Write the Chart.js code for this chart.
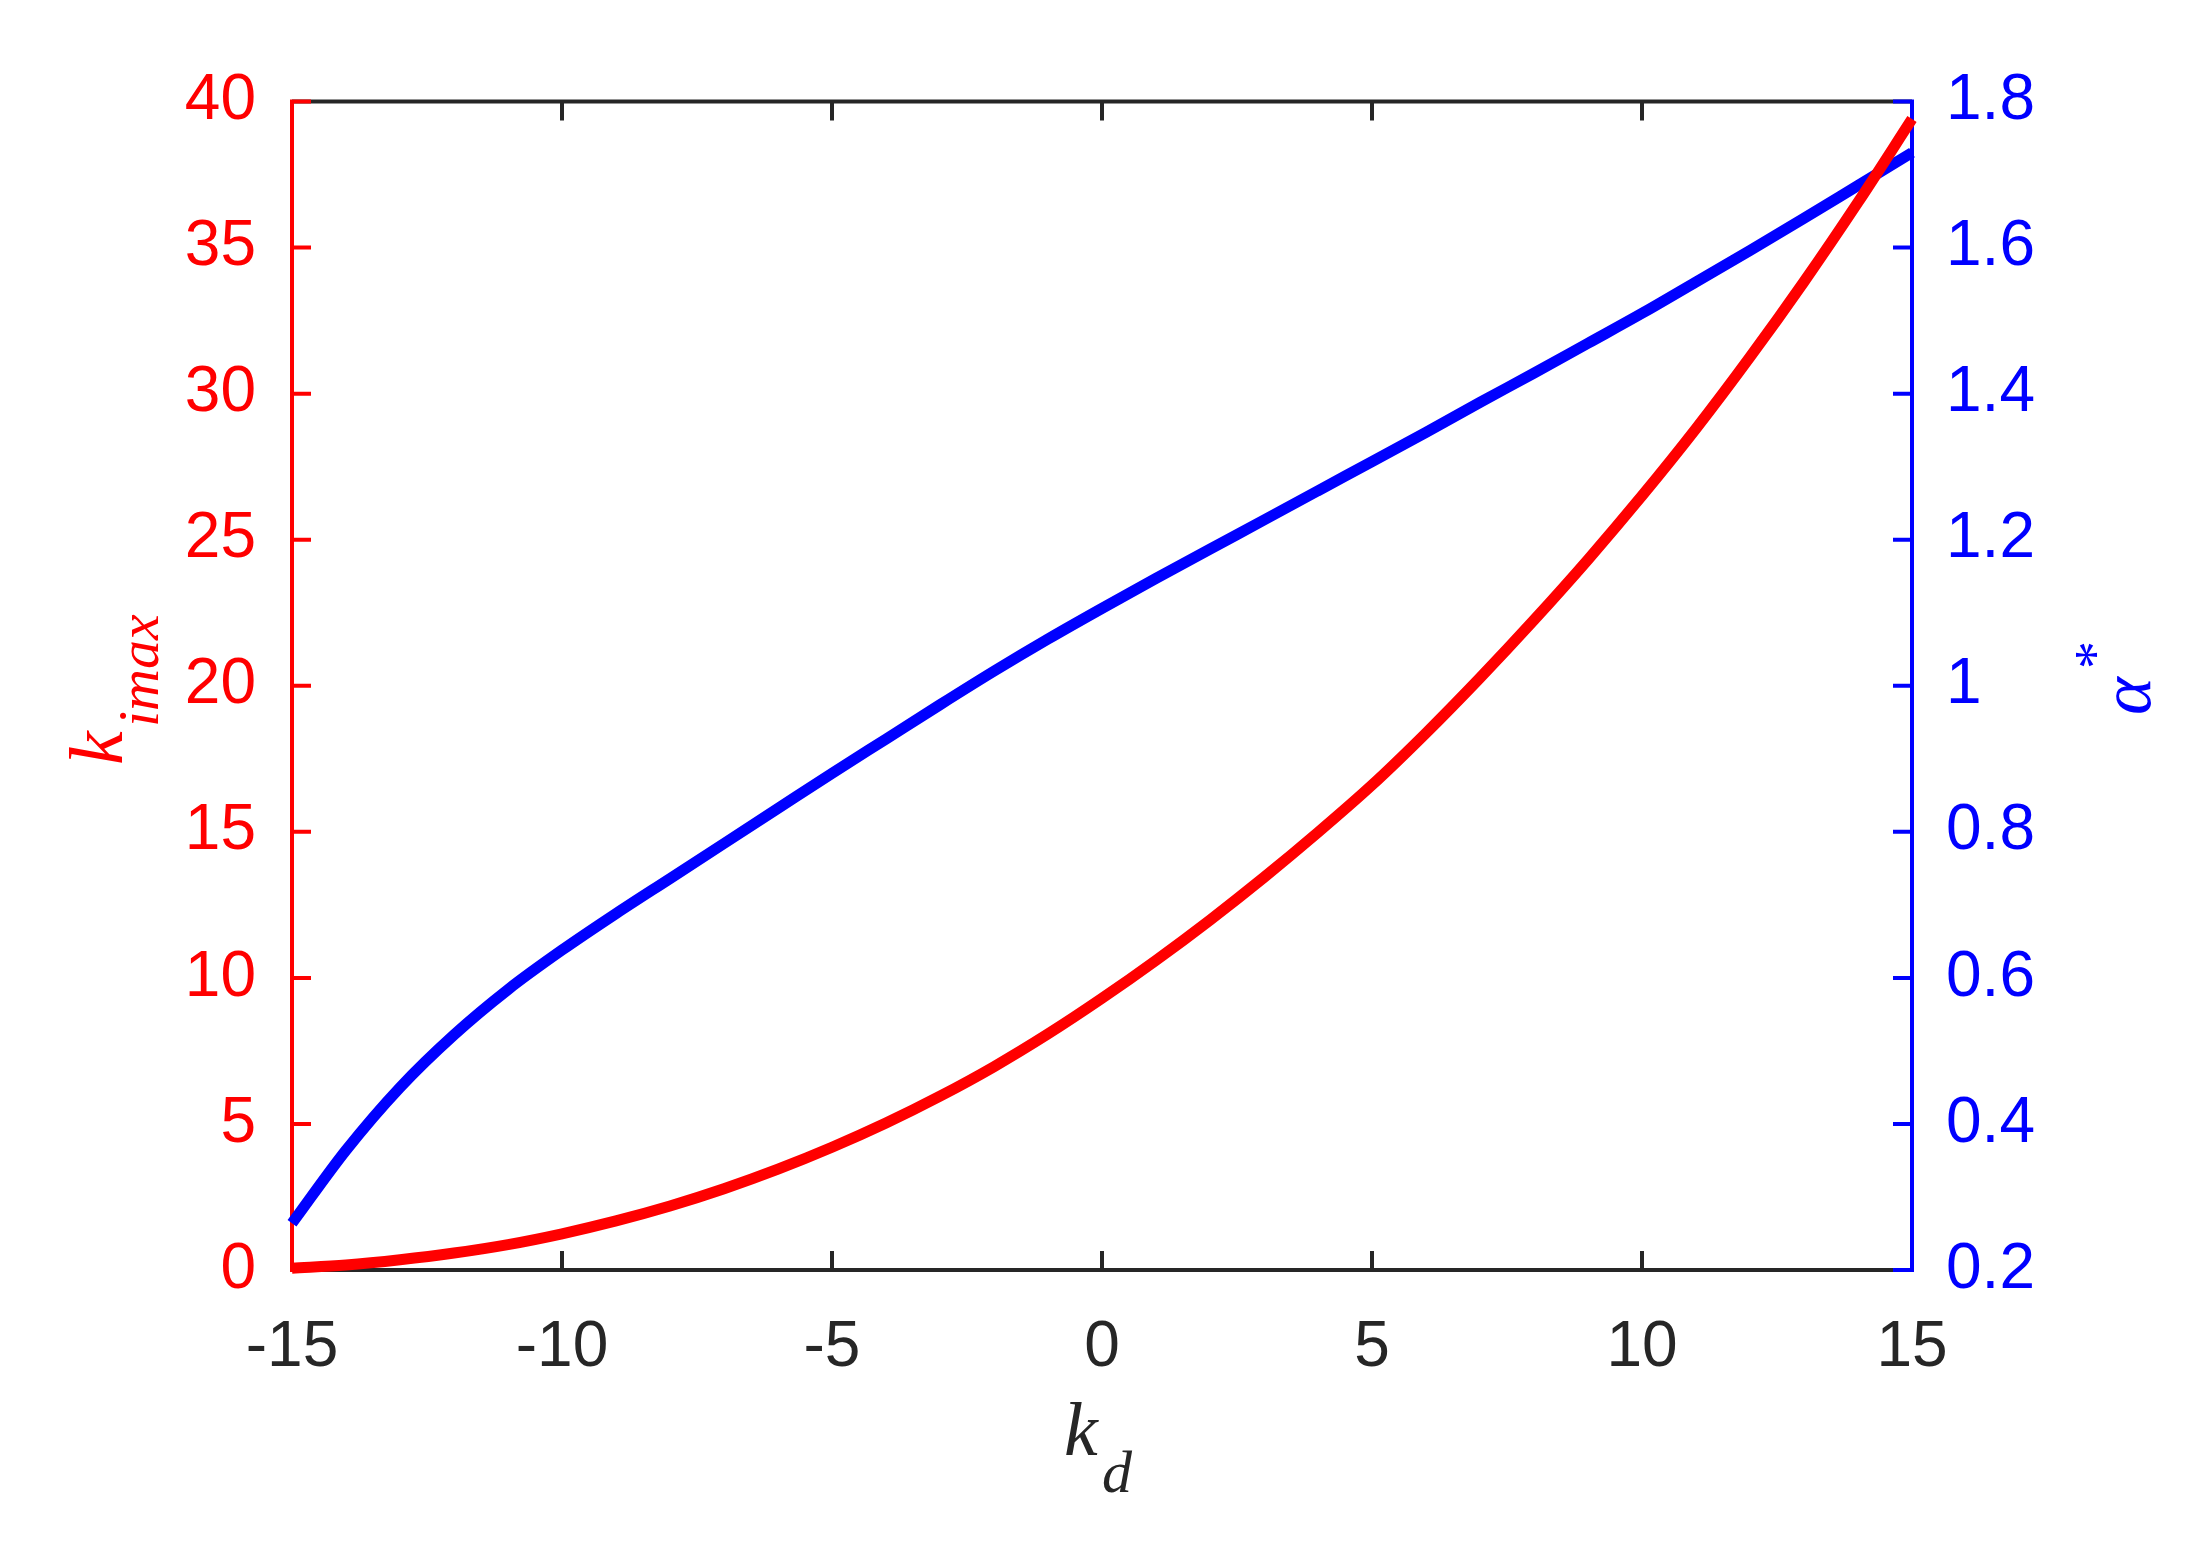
<!DOCTYPE html>
<html>
<head>
<meta charset="utf-8">
<script src="https://cdn.jsdelivr.net/npm/chart.js@4.4.1/dist/chart.umd.min.js"></script>
<style>
  html, body { margin: 0; padding: 0; background: #fff; }
  canvas { display: block; }
</style>
</head>
<body>
<canvas id="chart" width="2212" height="1542"></canvas>
<script>
// values, one per unit of k_d
const kd = [-15, -14, -13, -12, -11, -10, -9, -8, -7, -6, -5, -4, -3, -2, -1, 0,
            1, 2, 3, 4, 5, 6, 7, 8, 9, 10, 11, 12, 13, 14, 15];
const kiMax = [0.06, 0.17, 0.35, 0.58, 0.87, 1.24, 1.68, 2.19, 2.78, 3.45, 4.2, 5.03, 5.95, 6.96, 8.08, 9.3,
               10.6, 11.98, 13.44, 14.98, 16.6, 18.38, 20.27, 22.25, 24.32, 26.5, 28.8, 31.25, 33.83, 36.55, 39.4];
const alphaStar = [0.264, 0.364, 0.45, 0.522, 0.584, 0.638, 0.688, 0.736, 0.784, 0.832, 0.88, 0.927, 0.974, 1.02, 1.064, 1.106,
                   1.147, 1.187, 1.227, 1.267, 1.307, 1.347, 1.388, 1.428, 1.469, 1.51, 1.553, 1.596, 1.64, 1.685, 1.73];

const xTicks = [-15, -10, -5, 0, 5, 10, 15];
const leftTicks = [0, 5, 10, 15, 20, 25, 30, 35, 40];
const rightTicks = [0.2, 0.4, 0.6, 0.8, 1, 1.2, 1.4, 1.6, 1.8];

const RED = '#ff0000';
const BLUE = '#0000ff';
const DARK = '#262626';
const TICK_LEN = 19;

Chart.defaults.font.family = '"Liberation Sans", Arial, sans-serif';
Chart.defaults.font.size = 64;

function toPoints(xs, ys) {
    return xs.map((x, i) => ({ x: x, y: ys[i] }));
}

function setTicks(list) {
    return function (scale) {
        scale.ticks = list.map(v => ({ value: v }));
    };
}

// matlab style box: inward ticks, coloured y rulers
const axesPlugin = {
    id: 'matlabAxes',
    beforeDatasetsDraw(chart) {
        const { ctx, chartArea: a, scales } = chart;
        ctx.save();
        ctx.lineWidth = 4;
        ctx.lineCap = 'butt';

        ctx.strokeStyle = DARK;
        ctx.beginPath();
        ctx.moveTo(a.left, a.top); ctx.lineTo(a.right, a.top);
        ctx.moveTo(a.left, a.bottom); ctx.lineTo(a.right, a.bottom);
        xTicks.forEach(v => {
            const px = scales.x.getPixelForValue(v);
            ctx.moveTo(px, a.bottom); ctx.lineTo(px, a.bottom - TICK_LEN);
            ctx.moveTo(px, a.top); ctx.lineTo(px, a.top + TICK_LEN);
        });
        ctx.stroke();

        ctx.strokeStyle = RED;
        ctx.beginPath();
        ctx.moveTo(a.left, a.top - 2); ctx.lineTo(a.left, a.bottom + 2);
        leftTicks.forEach(v => {
            const py = scales.y.getPixelForValue(v);
            ctx.moveTo(a.left, py); ctx.lineTo(a.left + TICK_LEN, py);
        });
        ctx.stroke();

        ctx.strokeStyle = BLUE;
        ctx.beginPath();
        ctx.moveTo(a.right, a.top - 2); ctx.lineTo(a.right, a.bottom + 2);
        rightTicks.forEach(v => {
            const py = scales.y1.getPixelForValue(v);
            ctx.moveTo(a.right, py); ctx.lineTo(a.right - TICK_LEN, py);
        });
        ctx.stroke();
        ctx.restore();
    },
    afterDraw(chart) {
        const ctx = chart.ctx;
        ctx.save();
        ctx.textAlign = 'left';
        ctx.textBaseline = 'alphabetic';

        // x title: k_d
        ctx.fillStyle = DARK;
        ctx.font = 'italic 76px "Liberation Serif", "Times New Roman", serif';
        ctx.fillText('k', 1064, 1455);
        ctx.font = 'italic 60px "Liberation Serif", "Times New Roman", serif';
        ctx.fillText('d', 1102, 1492);

        // left title: k_imax (rotated)
        ctx.save();
        ctx.translate(122, 765);
        ctx.rotate(-Math.PI / 2);
        ctx.fillStyle = RED;
        ctx.font = 'italic 76px "Liberation Serif", "Times New Roman", serif';
        ctx.fillText('k', 0, 0);
        ctx.font = 'italic 58px "Liberation Serif", "Times New Roman", serif';
        ctx.fillText('imax', 38, 36);
        ctx.restore();

        // right title: alpha* (rotated)
        ctx.save();
        ctx.translate(2150, 715);
        ctx.rotate(-Math.PI / 2);
        ctx.fillStyle = BLUE;
        ctx.font = 'italic 72px "Liberation Serif", "Times New Roman", serif';
        ctx.fillText('α', 0, 0);
        ctx.font = '56px "Liberation Serif", "Times New Roman", serif';
        ctx.fillText('*', 46, -36);
        ctx.restore();

        ctx.restore();
    }
};

const ctx = document.getElementById('chart').getContext('2d');

new Chart(ctx, {
    type: 'line',
    data: {
        datasets: [{
            label: 'k_imax',
            data: toPoints(kd, kiMax),
            yAxisID: 'y',
            borderColor: RED,
            borderWidth: 11,
            borderCapStyle: 'butt',
            pointRadius: 0,
            cubicInterpolationMode: 'monotone',
            clip: false,
            fill: false
        }, {
            label: 'alpha*',
            data: toPoints(kd, alphaStar),
            yAxisID: 'y1',
            borderColor: BLUE,
            borderWidth: 11,
            borderCapStyle: 'butt',
            pointRadius: 0,
            cubicInterpolationMode: 'monotone',
            clip: false,
            fill: false
        }]
    },
    options: {
        responsive: false,
        animation: false,
        layout: { padding: { top: 101.5, left: 0, right: 0, bottom: 0 } },
        plugins: {
            legend: { display: false },
            tooltip: { enabled: false }
        },
        scales: {
            x: {
                type: 'linear',
                min: -15,
                max: 15,
                afterBuildTicks: setTicks(xTicks),
                afterFit: s => { s.height = 272; },
                grid: { display: false },
                border: { display: false },
                ticks: {
                    color: DARK,
                    padding: 32,
                    maxRotation: 0,
                    autoSkip: false,
                    callback: v => String(v)
                }
            },
            y: {
                type: 'linear',
                position: 'left',
                min: 0,
                max: 40,
                afterBuildTicks: setTicks(leftTicks),
                afterFit: s => { s.width = 292; },
                grid: { display: false },
                border: { display: false },
                ticks: {
                    color: RED,
                    padding: 28,
                    autoSkip: false,
                    callback: v => String(v)
                }
            },
            y1: {
                type: 'linear',
                position: 'right',
                min: 0.2,
                max: 1.8,
                afterBuildTicks: setTicks(rightTicks),
                afterFit: s => { s.width = 300; },
                grid: { display: false },
                border: { display: false },
                ticks: {
                    color: BLUE,
                    padding: 26,
                    autoSkip: false,
                    callback: v => String(Math.round(v * 10) / 10)
                }
            }
        }
    },
    plugins: [axesPlugin]
});
</script>
</body>
</html>
